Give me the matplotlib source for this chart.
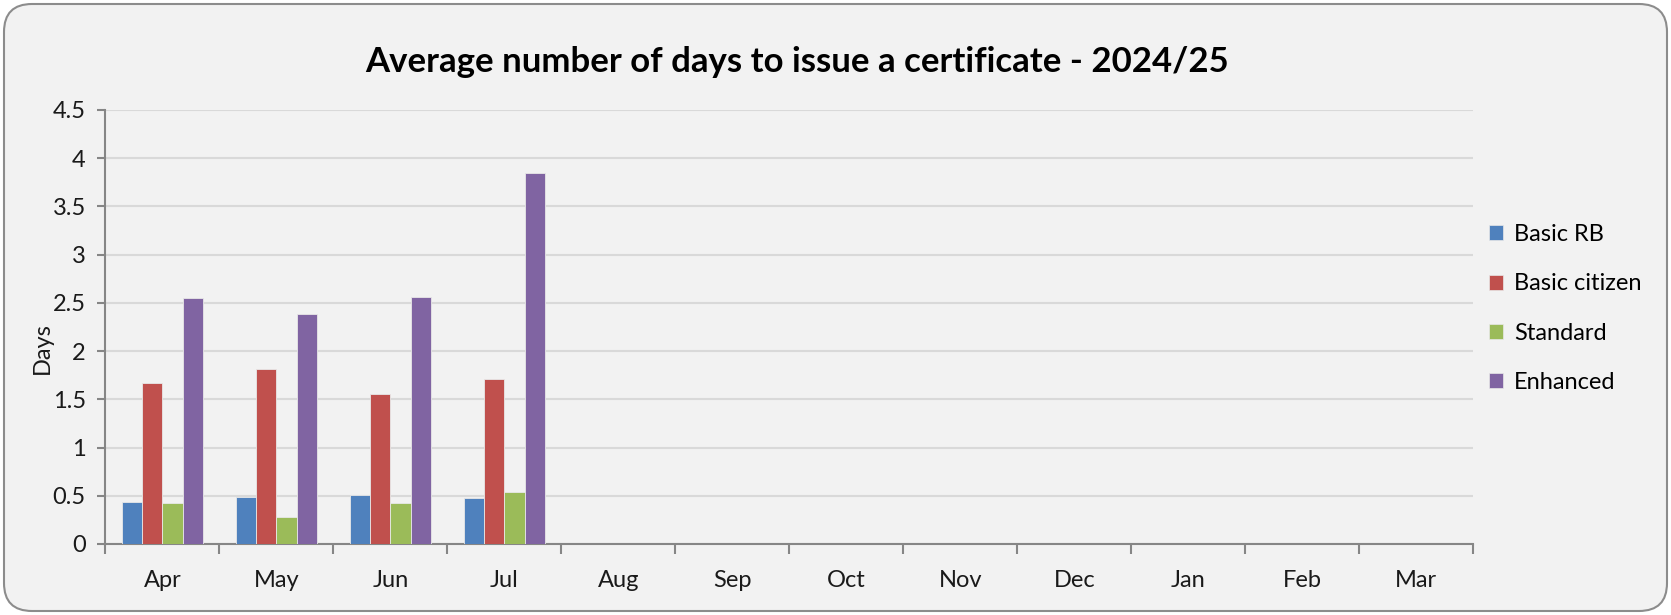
import numpy as np
import matplotlib
matplotlib.use("Agg")
import matplotlib.pyplot as plt
from matplotlib.patches import FancyBboxPatch, Patch

plt.rcParams['font.family'] = ['Lato', 'DejaVu Sans']

# data
months = ['Apr', 'May', 'Jun', 'Jul', 'Aug', 'Sep', 'Oct', 'Nov', 'Dec', 'Jan', 'Feb', 'Mar']
basic_rb = [0.44, 0.49, 0.51, 0.475]
basic_citizen = [1.67, 1.815, 1.56, 1.71]
standard = [0.42, 0.275, 0.42, 0.54]
enhanced = [2.55, 2.38, 2.56, 3.85]
series_names = ['Basic RB', 'Basic citizen', 'Standard', 'Enhanced']
colors = ['#4F81BD', '#C0504D', '#9BBB59', '#8064A2']

W, H = 1671, 615
fig = plt.figure(figsize=(W / 100, H / 100), dpi=100)
fig.patch.set_facecolor('white')

# rounded chart-area border like Excel (inch units keep the corners round)
border = FancyBboxPatch((0.04, 0.04), W / 100 - 0.08, H / 100 - 0.08,
                        boxstyle='round,pad=0,rounding_size=0.28',
                        transform=fig.dpi_scale_trans, facecolor='#F2F2F2',
                        edgecolor='#8C8C8C', linewidth=1.5, zorder=-10)
fig.patches.append(border)

ax = fig.add_axes([105.3 / W, 1 - 544 / H, (1473.3 - 105.3) / W, (544 - 110) / H])
ax.set_facecolor('none')
ax.set_zorder(5)

x = np.arange(len(months))
width = 0.178
all_series = [basic_rb, basic_citizen, standard, enhanced]
for i, (vals, name, col) in enumerate(zip(all_series, series_names, colors)):
    xs = x[:len(vals)] + (i - 1.5) * width
    ax.bar(xs, vals, width=width, color=col, edgecolor='#E8E8E8', linewidth=0.6,
           label=name, zorder=3)

ax.set_xlim(-0.5, len(months) - 0.5)
ax.set_ylim(0, 4.5)
ax.set_yticks(np.arange(0, 4.51, 0.5))
ax.set_yticklabels(['0', '0.5', '1', '1.5', '2', '2.5', '3', '3.5', '4', '4.5'])
ax.yaxis.grid(True, color='#D9D9D9', linewidth=1.5, zorder=0)
ax.set_axisbelow(True)

# category labels in the middle, ticks on the boundaries
ax.set_xticks(x)
ax.set_xticklabels(months)
ax.set_xticks(np.arange(-0.5, len(months), 1), minor=True)
ax.tick_params(axis='x', which='major', length=0, pad=19, labelsize=17, colors='#1A1A1A')
ax.tick_params(axis='x', which='minor', length=7, width=1.5, color='#868686', direction='out')
ax.tick_params(axis='y', length=6, width=1.5, color='#868686', pad=8, labelsize=17,
               labelcolor='#1A1A1A')

for side in ['top', 'right']:
    ax.spines[side].set_visible(False)
for side in ['left', 'bottom']:
    ax.spines[side].set_color('#868686')
    ax.spines[side].set_linewidth(1.5)

fig.text(42 / W, 1 - 348 / H, 'Days', rotation=90, ha='center', va='center',
         fontsize=17, color='#1A1A1A')

fig.text(797 / W, 1 - 62 / H, 'Average number of days to issue a certificate - 2024/25',
         ha='center', va='center', fontsize=25, fontweight='bold', color='#000000')

handles = [Patch(facecolor=c, edgecolor='#E8E8E8', linewidth=0.5) for c in colors]
fig.legend(handles, series_names, loc='upper left',
           bbox_to_anchor=(1489 / W, 1 - 224 / H), frameon=False,
           fontsize=17, handlelength=0.6, handleheight=0.6, handletextpad=0.45,
           labelspacing=1.2, borderaxespad=0, borderpad=0)

fig.savefig('out.png', dpi=100, facecolor=fig.get_facecolor())
